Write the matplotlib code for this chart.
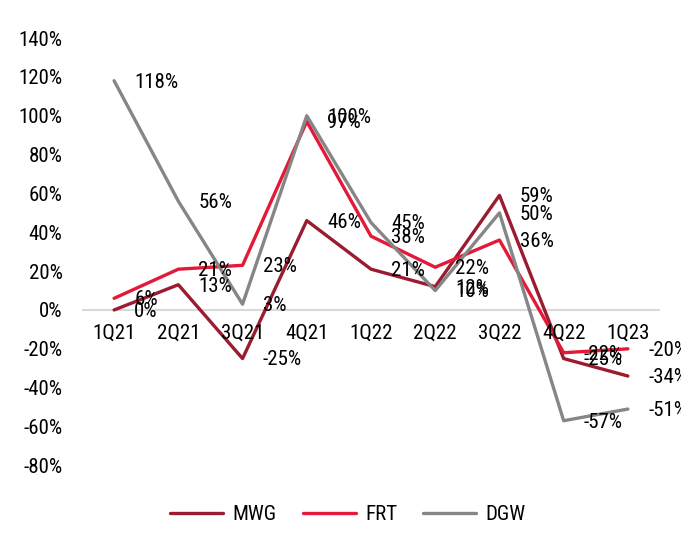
import matplotlib
matplotlib.use("Agg")
import matplotlib.pyplot as plt
from matplotlib import font_manager
from matplotlib.transforms import Bbox, TransformedBbox

categories = ["1Q21", "2Q21", "3Q21", "4Q21", "1Q22", "2Q22", "3Q22", "4Q22", "1Q23"]
mwg = [0, 13, -25, 46, 21, 12, 59, -25, -34]
frt = [6, 21, 23, 97, 38, 22, 36, -22, -20]
dgw = [118, 56, 3, 100, 45, 10, 50, -57, -51]
yticks = [-80, -60, -40, -20, 0, 20, 40, 60, 80, 100, 120, 140]

# pick a narrow font if available
fonts = font_manager.fontManager.ttflist
narrow = [f for f in fonts if f.name in ("Liberation Sans Narrow", "Arial Narrow", "Roboto Condensed")]
if narrow:
    plt.rcParams["font.family"] = [narrow[0].name, "DejaVu Sans"]
    FS = 15
else:
    plt.rcParams["font.family"] = ["Liberation Sans", "DejaVu Sans"]
    FS = 12.5

fig = plt.figure(figsize=(6.96, 5.48), dpi=100)
ax = fig.add_axes([82/696, 1-465.4/548, (660-82)/696, (465.4-38)/548])
clip = TransformedBbox(Bbox([[0, 0], [681/696, 1]]), fig.transFigure)

x = list(range(len(categories)))
series = [("MWG", mwg, "#9B1B30"), ("FRT", frt, "#E31937"), ("DGW", dgw, "#868686")]
ax.axhline(0, color="#D9D9D9", lw=1.5, zorder=1)
for name, vals, col in series:
    ax.plot(x, vals, color=col, lw=2.4, label=name, zorder=3, solid_capstyle="round")
for name, vals, col in series:
    for xi, v in zip(x, vals):
        t = ax.annotate(f"{v}%", (xi, v), xytext=(14.5, -1), textcoords="offset points",
                        ha="left", va="center", fontsize=FS, color="black", zorder=5,
                        annotation_clip=False)
        t.set_clip_on(True)
        t.set_clip_box(clip)

ax.set_xlim(-0.5, len(categories) - 0.5)
ax.set_ylim(-80, 140)
ax.set_yticks(yticks)
ax.set_yticklabels([f"{t}%" for t in yticks], fontsize=FS)
ax.tick_params(axis="y", length=0, pad=14)
ax.set_xticks([])
for xi, c in zip(x, categories):
    ax.annotate(c, (xi, 0), xytext=(0, -17), textcoords="offset points",
                ha="center", va="center", fontsize=FS)
for s in ax.spines.values():
    s.set_visible(False)

fig.legend(loc="center", bbox_to_anchor=(0.5, 1-515/548), ncol=3, frameon=False,
           fontsize=FS, handlelength=2.55, handletextpad=0.45, columnspacing=1.25)

fig.savefig("out.png", dpi=100)
